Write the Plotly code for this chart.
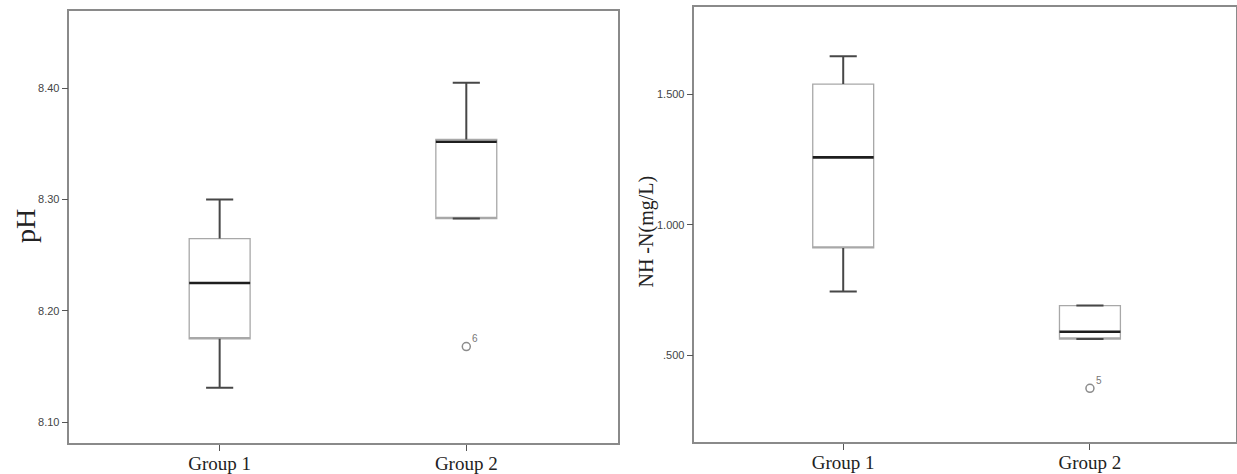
import plotly.graph_objects as go

# ---------------- data ----------------
groups = ["Group 1", "Group 2"]
xpos = [0, 1]

ph_lower = [8.131, 8.283]
ph_q1 = [8.175, 8.283]
ph_median = [8.225, 8.352]
ph_q3 = [8.265, 8.354]
ph_upper = [8.300, 8.405]
ph_outlier_x = [1]
ph_outlier_y = [8.168]
ph_outlier_lbl = ["6"]
ph_ticks = [8.10, 8.20, 8.30, 8.40]
ph_ticktext = ["8.10", "8.20", "8.30", "8.40"]

nh_lower = [0.744, 0.562]
nh_q1 = [0.911, 0.562]
nh_median = [1.258, 0.590]
nh_q3 = [1.539, 0.690]
nh_upper = [1.645, 0.690]
nh_outlier_x = [1]
nh_outlier_y = [0.373]
nh_outlier_lbl = ["5"]
nh_ticks = [0.5, 1.0, 1.5]
nh_ticktext = [".500", "1.000", "1.500"]

# ---------------- style ----------------
W, H = 1237, 474
BOXW = 0.247
CAP = 0.055
FRAME = "#8a8a8a"

fig = go.Figure()


def add_panel(xa, ya, lower, q1, med, q3, upper, ox, oy, olbl):
    xref = "x" if xa == "xaxis" else "x2"
    yref = "y" if ya == "yaxis" else "y2"
    fig.add_trace(go.Box(
        x=xpos, q1=q1, median=q1, q3=q3, lowerfence=q1, upperfence=q3,
        width=BOXW, fillcolor="white", line=dict(color="#a8a8a8", width=1.3),
        whiskerwidth=0, boxpoints=False, showlegend=False, hoverinfo="skip",
        xaxis=xref, yaxis=yref))
    # whiskers
    wx, wy = [], []
    for x, lo, a, b, hi in zip(xpos, lower, q1, q3, upper):
        wx += [x, x, None, x - CAP, x + CAP, None, x, x, None, x - CAP, x + CAP, None]
        wy += [b, hi, None, hi, hi, None, a, lo, None, lo, lo, None]
    fig.add_trace(go.Scatter(x=wx, y=wy, mode="lines",
                             line=dict(color="#474747", width=2),
                             showlegend=False, hoverinfo="skip",
                             xaxis=xref, yaxis=yref))
    # medians
    mx, my = [], []
    for x, m in zip(xpos, med):
        mx += [x - BOXW / 2, x + BOXW / 2, None]
        my += [m, m, None]
    fig.add_trace(go.Scatter(x=mx, y=my, mode="lines",
                             line=dict(color="#1e1e1e", width=2.6),
                             showlegend=False, hoverinfo="skip",
                             xaxis=xref, yaxis=yref))
    # outliers
    fig.add_trace(go.Scatter(x=ox, y=oy, mode="markers",
                             marker=dict(symbol="circle-open", size=8,
                                         color="#8c8c8c", line=dict(width=1.5)),
                             showlegend=False, hoverinfo="skip",
                             xaxis=xref, yaxis=yref))
    for x, y, t in zip(ox, oy, olbl):
        fig.add_annotation(x=x, y=y, xref=xref, yref=yref, text=t,
                           showarrow=False, xshift=9, yshift=8,
                           font=dict(family="Liberation Sans", size=10, color="#777"))


add_panel("xaxis", "yaxis", ph_lower, ph_q1, ph_median, ph_q3, ph_upper,
          ph_outlier_x, ph_outlier_y, ph_outlier_lbl)
add_panel("xaxis2", "yaxis2", nh_lower, nh_q1, nh_median, nh_q3, nh_upper,
          nh_outlier_x, nh_outlier_y, nh_outlier_lbl)

xcommon = dict(tickmode="array", tickvals=xpos, ticktext=groups,
               showline=True, linecolor=FRAME, linewidth=1.5, mirror=True,
               ticks="outside", ticklen=6, tickcolor="#555", tickwidth=1.2,
               showgrid=False, zeroline=False, ticklabelstandoff=-3,
               tickfont=dict(family="Liberation Serif", size=19, color="#222"))
ycommon = dict(showline=True, linecolor=FRAME, linewidth=1.5, mirror=True,
               ticks="outside", ticklen=6, tickcolor="#555", tickwidth=1.2,
               showgrid=False, zeroline=False, tickmode="array",
               tickfont=dict(family="Liberation Sans", size=11, color="#444"))

fig.update_layout(
    width=W, height=H, paper_bgcolor="white", plot_bgcolor="white",
    margin=dict(l=0, r=0, t=0, b=0),
    xaxis=dict(xcommon, domain=[69.5 / W, 618 / W], range=[-0.609, 1.613]),
    yaxis=dict(ycommon, domain=[(H - 448.5) / H, (H - 11.6) / H],
               range=[8.0815, 8.469], tickvals=ph_ticks, ticktext=ph_ticktext),
    xaxis2=dict(xcommon, domain=[695 / W, 1236.5 / W], range=[-0.603, 1.59],
                anchor="y2"),
    yaxis2=dict(ycommon, domain=[(H - 447.5) / H, (H - 6.6) / H],
                range=[0.168, 1.836], tickvals=nh_ticks, ticktext=nh_ticktext,
                anchor="x2"),
)

fig.add_annotation(text="pH", xref="paper", yref="paper",
                   x=25 / W, y=(H - 229) / H, xanchor="center", yanchor="middle",
                   showarrow=False, textangle=-90,
                   font=dict(family="Liberation Serif", size=28, color="#222"))
fig.add_annotation(text="NH -N(mg/L)", xref="paper", yref="paper",
                   x=647 / W, y=(H - 234) / H, xanchor="center", yanchor="middle",
                   showarrow=False, textangle=-90,
                   font=dict(family="Liberation Serif", size=20, color="#222"))

fig.write_html("out.html",
               config={"displayModeBar": False},
               post_script="document.body.style.margin='0';"
                           "document.body.style.overflow='hidden';")
